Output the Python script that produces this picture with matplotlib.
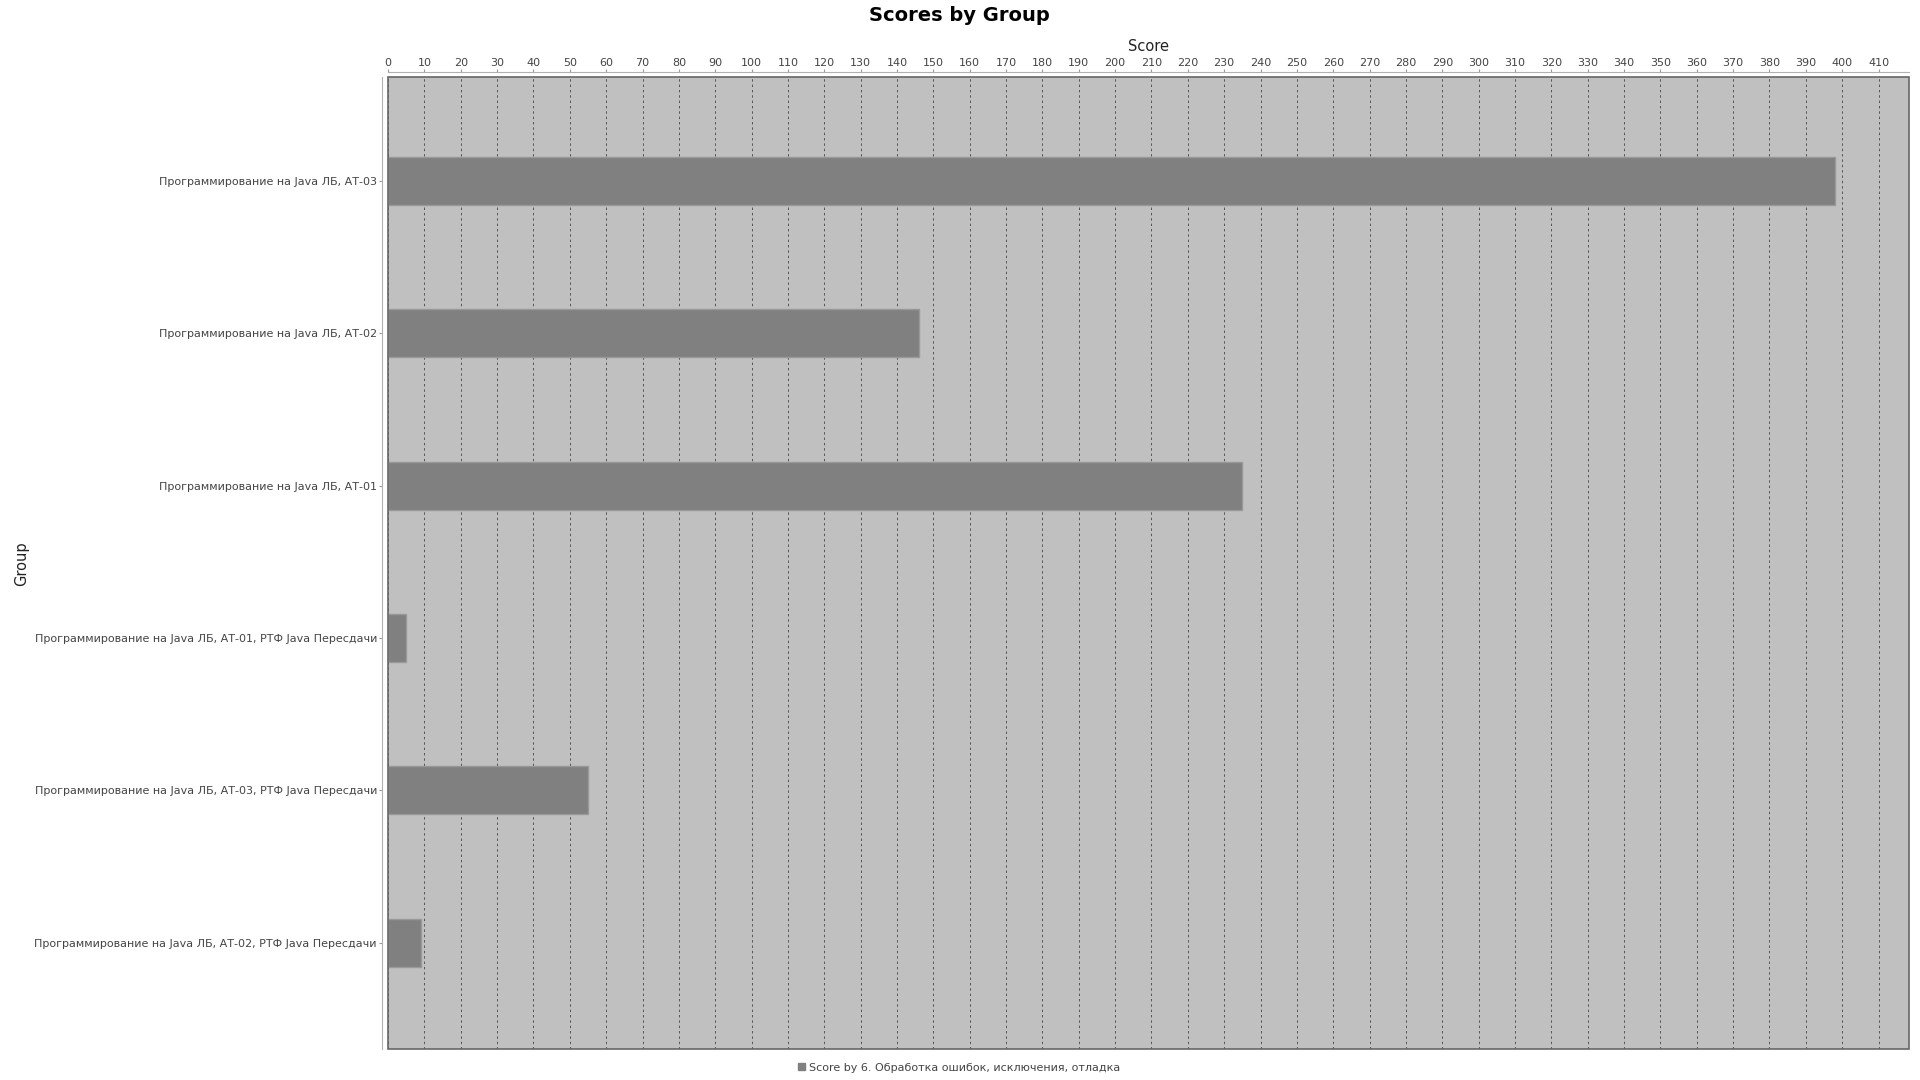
import matplotlib.pyplot as plt
from matplotlib.patches import Rectangle, Patch

groups = ["Программирование на Java ЛБ, АТ-03",
          "Программирование на Java ЛБ, АТ-02",
          "Программирование на Java ЛБ, АТ-01",
          "Программирование на Java ЛБ, АТ-01, РТФ Java Пересдачи",
          "Программирование на Java ЛБ, АТ-03, РТФ Java Пересдачи",
          "Программирование на Java ЛБ, АТ-02, РТФ Java Пересдачи"]
scores = [398, 146, 235, 5, 55, 9]
series_name = "Score by 6. Обработка ошибок, исключения, отладка"

plt.rcParams['font.family'] = ['DejaVu Sans']

fig = plt.figure(figsize=(19.2, 10.8), dpi=100)
ax = fig.add_axes([0.2021, 0.0284, 0.7922, 0.9000])
ax.set_facecolor('#c0c0c0')

pos = list(range(len(groups)))
ax.barh(pos, scores, height=0.315, color='#808080', edgecolor='#999999', linewidth=1, zorder=3)

ax.set_xlim(0, 418.4)
ax.set_ylim(5.70, -0.68)
ax.set_xticks(range(0, 420, 10))
ax.set_yticks(pos)
ax.set_yticklabels(groups)

ax.xaxis.tick_top()
ax.xaxis.set_label_position('top')
ax.set_xlabel("Score", fontsize=10.5, color='#222222', labelpad=5)
ax.set_ylabel("Group", fontsize=10.5, color='#222222')
ax.yaxis.set_label_coords(-0.236, 0.5)

ax.tick_params(axis='both', labelsize=8, labelcolor='#444444', color='#999999',
               length=2, width=0.8, pad=2)
ax.tick_params(axis='x', pad=1)

ax.xaxis.grid(True, linestyle=(0, (2.5, 3)), color='#555555', linewidth=0.7, zorder=1)
ax.set_axisbelow(True)

for side in ['bottom', 'right']:
    ax.spines[side].set_visible(False)
for side in ['top', 'left']:
    ax.spines[side].set_position(('outward', 4))
    ax.spines[side].set_color('#b0b0b0')

ax.add_patch(Rectangle((0, 0), 1, 1, transform=ax.transAxes, fill=False,
                       edgecolor='#666666', linewidth=1.2, clip_on=False, zorder=5))

fig.text(0.4995, 0.986, "Scores by Group", ha='center', va='center',
         fontsize=14, fontweight='bold', color='black')

fig.legend(handles=[Patch(facecolor='#808080', edgecolor='#808080')], labels=[series_name],
           loc='center', bbox_to_anchor=(0.4995, 0.0115), frameon=False, fontsize=8,
           handlelength=0.6, handleheight=0.6, handletextpad=0.4, labelcolor='#444444')

fig.savefig("out.png", dpi=100)
